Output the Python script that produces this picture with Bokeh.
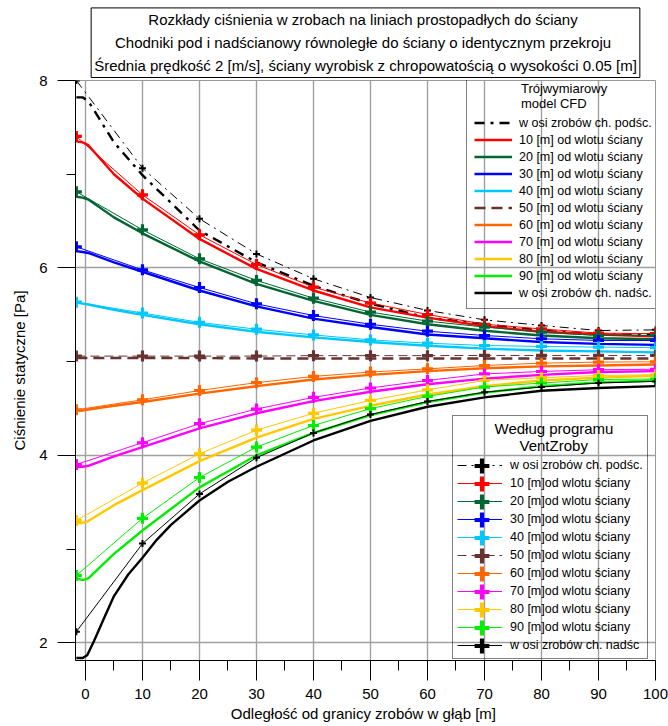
from bokeh.plotting import figure
from bokeh.models import FixedTicker, Legend, LegendItem, Range1d
from bokeh.embed import file_html
from bokeh.resources import INLINE

FONT = "Liberation Sans"
NB = "\u00a0"
NAN = float("nan")

title_lines = [
    "Rozkłady ciśnienia  w zrobach na liniach prostopadłych do ściany",
    "Chodniki pod i nadścianowy równoległe do ściany o identycznym przekroju",
    "Średnia prędkość 2 [m/s], ściany wyrobisk z chropowatością o wysokości 0.05 [m]",
]
x_label = "Odległość od granicy zrobów w głąb  [m]"
y_label = "Ciśnienie statyczne [Pa]"
cfd_title = ["Trójwymiarowy", "model CFD"]
vz_title = ["Według programu", "VentZroby"]

x_ticks = [0, 10, 20, 30, 40, 50, 60, 70, 80, 90, 100]
x_minor = [5, 15, 25, 35, 45, 55, 65, 75, 85, 95]
y_ticks = [2, 4, 6, 8]
y_minor = [3, 5, 7]

cfd_labels = [
    "w osi zrobów ch. podśc.",
    "10 [m] od wlotu ściany",
    "20 [m] od wlotu ściany",
    "30 [m] od wlotu ściany",
    "40 [m] od wlotu ściany",
    "50 [m] od wlotu ściany",
    "60 [m] od wlotu ściany",
    "70 [m] od wlotu ściany",
    "80 [m] od wlotu ściany",
    "90 [m] od wlotu ściany",
    "w osi zrobów ch. nadśc.",
]
vz_labels = [
    "w osi zrobów ch. podśc.",
    "10 [m]od wlotu ściany",
    "20 [m]od wlotu ściany",
    "30 [m]od wlotu ściany",
    "40 [m]od wlotu ściany",
    "50 [m]od wlotu ściany",
    "60 [m]od wlotu ściany",
    "70 [m]od wlotu ściany",
    "80 [m]od wlotu ściany",
    "90 [m]od wlotu ściany",
    "w osi zrobów ch. nadśc",
]
colors = ["#000000", "#FF0000", "#006633", "#0000FF", "#00C8FF", "#663333",
          "#FF6600", "#FF00FF", "#FFC800", "#00EE00", "#000000"]

# VentZroby (program) values
x_vz = [-1.6, 10, 20, 30, 40, 50, 60, 70, 80, 90, 100]
vz_podsc = [8.00, 7.065, 6.525, 6.15, 5.885, 5.685, 5.547, 5.447, 5.387, 5.333, 5.34]
vz_10 = [7.403, 6.78, 6.354, 6.037, 5.796, 5.626, 5.504, 5.40, 5.35, 5.305, 5.30]
vz_20 = [6.813, 6.407, 6.098, 5.867, 5.678, 5.53, 5.433, 5.37, 5.315, 5.28, 5.28]
vz_30 = [6.226, 5.98, 5.792, 5.618, 5.493, 5.40, 5.326, 5.28, 5.245, 5.227, 5.227]
vz_40 = [5.635, 5.52, 5.42, 5.347, 5.286, 5.233, 5.198, 5.173, 5.163, 5.156, 5.15]
vz_50 = [5.06, 5.06, 5.06, 5.06, 5.065, 5.065, 5.065, 5.067, 5.067, 5.067, 5.067]
vz_60 = [4.487, 4.594, 4.693, 4.777, 4.843, 4.89, 4.924, 4.96, 4.985, 4.996, 5.0]
vz_70 = [3.904, 4.136, 4.339, 4.495, 4.62, 4.72, 4.80, 4.87, 4.896, 4.915, 4.92]
vz_80 = [3.307, 3.705, 4.018, 4.27, 4.45, 4.587, 4.70, 4.80, 4.83, 4.853, 4.86]
vz_90 = [2.72, 3.33, 3.765, 4.09, 4.32, 4.50, 4.63, 4.73, 4.773, 4.81, 4.816]
vz_nadsc = [2.12, 3.06, 3.59, 3.976, 4.24, 4.437, 4.576, 4.675, 4.73, 4.773, 4.79]

# CFD values
x_cfd = [-1.6, -0.5, 0.5, 5, 10, 20, 30, 40, 50, 60, 70, 80, 90, 100]
cfd_podsc = [7.82, 7.82, 7.78, 7.34, 6.99, 6.40, 6.06, 5.81, 5.62, 5.47, 5.40, 5.33, 5.29, 5.29]
cfd_10 = [7.35, 7.34, 7.31, 7.00, 6.74, 6.31, 5.99, 5.76, 5.58, 5.47, 5.38, 5.32, 5.29, 5.27]
cfd_20 = [6.76, 6.75, 6.73, 6.54, 6.37, 6.07, 5.83, 5.65, 5.50, 5.40, 5.33, 5.28, 5.25, 5.24]
cfd_30 = [6.18, 6.17, 6.16, 6.06, 5.96, 5.76, 5.59, 5.46, 5.37, 5.29, 5.25, 5.21, 5.19, 5.18]
cfd_40 = [5.63, 5.62, 5.61, 5.555, 5.50, 5.40, 5.32, 5.26, 5.21, 5.17, 5.14, 5.12, 5.11, 5.10]
cfd_50 = [5.04, 5.04, 5.04, 5.04, 5.04, 5.04, 5.035, 5.035, 5.035, 5.035, 5.035, 5.035, 5.035, 5.035]
cfd_60 = [4.48, 4.48, 4.49, 4.53, 4.57, 4.66, 4.74, 4.81, 4.86, 4.90, 4.93, 4.95, 4.96, 4.97]
cfd_70 = [3.88, 3.88, 3.89, 3.99, 4.09, 4.29, 4.45, 4.58, 4.68, 4.76, 4.82, 4.86, 4.89, 4.90]
cfd_80 = [3.28, 3.28, 3.30, 3.47, 3.63, 3.94, 4.19, 4.39, 4.53, 4.65, 4.74, 4.80, 4.83, 4.85]
cfd_90 = [2.69, 2.67, 2.69, 2.95, 3.20, 3.66, 4.00, 4.24, 4.43, 4.57, 4.67, 4.74, 4.78, 4.80]
x_cfd_nadsc = [-1.6, -0.5, 0.3, 1.5, 3, 5, 7.5, 10, 12.5, 15, 20, 25, 30, 40, 50, 60, 70, 80, 90, 100]
cfd_nadsc = [1.84, 1.84, 1.87, 2.02, 2.23, 2.50, 2.73, 2.91, 3.10, 3.26, 3.52, 3.72, 3.88, 4.16,
             4.37, 4.52, 4.62, 4.69, 4.72, 4.74]

vz_series = [vz_podsc, vz_10, vz_20, vz_30, vz_40, vz_50, vz_60, vz_70, vz_80, vz_90, vz_nadsc]
cfd_series = [cfd_podsc, cfd_10, cfd_20, cfd_30, cfd_40, cfd_50, cfd_60, cfd_70, cfd_80, cfd_90, cfd_nadsc]
cfd_x = [x_cfd] * 10 + [x_cfd_nadsc]

p = figure(width=668, height=726, x_range=Range1d(-1.75, 100), y_range=Range1d(1.813, 8.0),
           output_backend="svg", toolbar_location=None,
           min_border_left=75, min_border_right=13, min_border_top=80, min_border_bottom=66)

# title: centred lines (non-breaking space indents) inside a bordered box
title_indent = [13, 5, 0]
p.title.text = "\n".join(NB * n + t for n, t in zip(title_indent, title_lines))
p.title.align = "center"
p.title.text_font = FONT
p.title.text_font_size = "15px"
p.title.text_font_style = "normal"
p.title.text_color = "black"
p.title.text_line_height = 1.37
p.title.border_line_color = "black"
p.title.border_line_width = 1
p.title.background_fill_color = "white"
p.title.padding = 3
p.title.standoff = 6

p.outline_line_color = "#999999"
p.background_fill_color = "white"

# grids
p.xgrid.ticker = FixedTicker(ticks=x_ticks)
p.ygrid.ticker = FixedTicker(ticks=y_ticks)
for g in (p.xgrid, p.ygrid):
    g.grid_line_color = "#A0A0A0"
    g.grid_line_width = 1.4

# axes
p.xaxis.ticker = FixedTicker(ticks=x_ticks, minor_ticks=x_minor)
p.yaxis.ticker = FixedTicker(ticks=y_ticks, minor_ticks=y_minor)
for ax in (p.xaxis, p.yaxis):
    ax.axis_line_color = "black"
    ax.major_tick_in = 0
    ax.minor_tick_in = 0
    ax.major_tick_line_color = "black"
    ax.minor_tick_line_color = "black"
    ax.major_label_text_font = FONT
    ax.major_label_text_font_size = "15px"
    ax.major_label_text_color = "black"
    ax.axis_label_text_font = FONT
    ax.axis_label_text_font_size = "15px"
    ax.axis_label_text_font_style = "normal"
    ax.axis_label_text_color = "black"
p.xaxis.major_tick_out = 20
p.xaxis.minor_tick_out = 10
p.yaxis.major_tick_out = 18
p.yaxis.minor_tick_out = 9
p.xaxis.major_label_standoff = 8
p.yaxis.major_label_standoff = 10
p.xaxis.axis_label = x_label
p.yaxis.axis_label = y_label
p.xaxis.axis_label_standoff = 3
p.yaxis.axis_label_standoff = 8


def dash_for(i, thick):
    if i == 0:
        return "10 6 3 6" if thick else "9 5 2 5"
    if i == 5:
        return "11 6" if thick else "9 5"
    return "solid"


# CFD thick lines
cfd_renderers = []
for i, (xs, ys) in enumerate(zip(cfd_x, cfd_series)):
    r = p.line(xs, ys, line_color=colors[i], line_width=2.4, line_dash=dash_for(i, True))
    cfd_renderers.append(r)

# VentZroby thin lines + markers
vz_line_renderers = []
for i, ys in enumerate(vz_series):
    r = p.line(x_vz, ys, line_color=colors[i], line_width=1, line_dash=dash_for(i, False))
    vz_line_renderers.append(r)
for i, ys in enumerate(vz_series):
    if i in (0, 10):
        p.scatter(x_vz, ys, marker="cross", size=7, line_width=2, line_color=colors[i])
    else:
        p.scatter(x_vz, ys, marker="cross", size=11, line_width=3.2, line_color=colors[i])

cfd_items = [LegendItem(label=cfd_labels[i], renderers=[cfd_renderers[i]]) for i in range(11)]
vz_items = [LegendItem(label=vz_labels[i], renderers=[vz_line_renderers[i]]) for i in range(11)]

leg1 = Legend(items=cfd_items, location=(391, 351),
              title=NB * 13 + cfd_title[0] + "\n" + NB * 13 + cfd_title[1],
              title_text_font=FONT, title_text_font_size="13px", title_text_font_style="normal",
              title_text_color="black", title_standoff=3,
              label_text_font=FONT, label_text_font_size="12.5px", label_text_color="black",
              glyph_width=38, glyph_height=17, label_height=17, spacing=0,
              label_standoff=7, padding=7, margin=0,
              border_line_color="black", border_line_width=1.2, background_fill_alpha=0)
leg2 = Legend(items=vz_items, location=(377, 1),
              title=NB * 9 + vz_title[0] + "\n" + NB * 15 + vz_title[1],
              title_text_font=FONT, title_text_font_size="15px", title_text_font_style="normal",
              title_text_color="black", title_standoff=2,
              label_text_font=FONT, label_text_font_size="12.5px", label_text_color="black",
              glyph_width=45, glyph_height=18, label_height=18, spacing=0,
              label_standoff=8, padding=4, margin=0,
              border_line_color="black", border_line_width=1.2, background_fill_alpha=0)
p.add_layout(leg1, "center")
p.add_layout(leg2, "center")

# large legend crosses: one tiny borderless legend per row (tall glyph box -> big marker)
ROW0 = 194      # centre of first VentZroby legend row, px above frame bottom
ROW_STEP = 18
BOX = 37
for i in range(11):
    mr = p.scatter([NAN], [NAN], marker="cross", line_width=4.2, line_color=colors[i])
    lg = Legend(items=[LegendItem(label="", renderers=[mr])],
                location=(384, ROW0 - ROW_STEP * i - BOX // 2),
                glyph_width=45, glyph_height=BOX, label_height=BOX, spacing=0,
                label_standoff=0, padding=0, margin=0, label_text_font_size="1px",
                border_line_alpha=0, background_fill_alpha=0)
    p.add_layout(lg, "center")

open("out.html", "w").write(file_html(p, INLINE))
